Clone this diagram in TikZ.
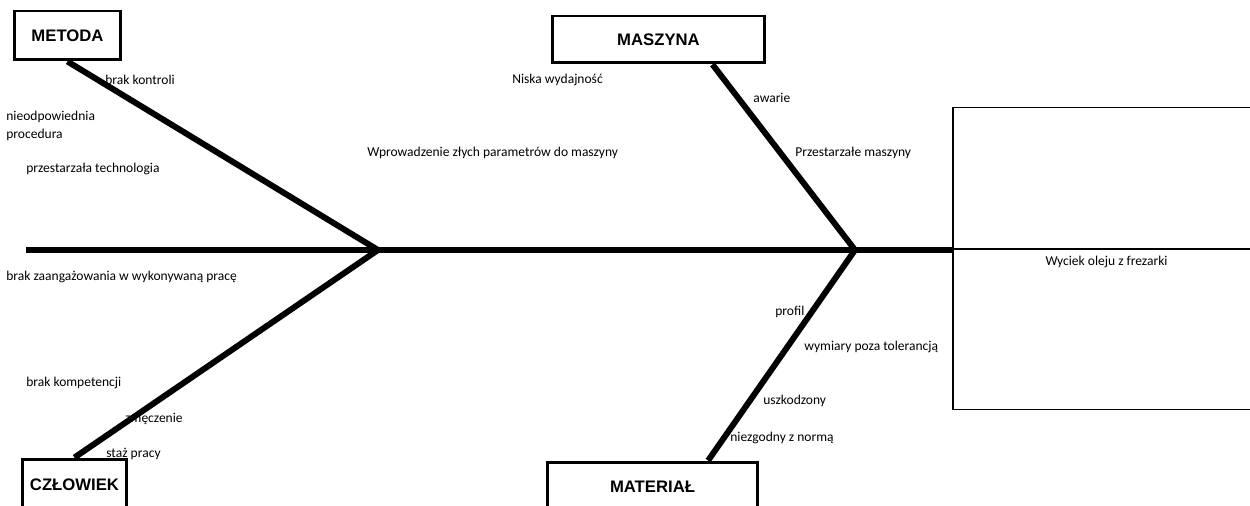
\documentclass[tikz,border=0pt]{standalone}
\usepackage{fontspec}
\setmainfont{Carlito}
\newfontfamily\catfont{Liberation Sans}
\usetikzlibrary{calc}
\begin{document}
\begin{tikzpicture}[x=0.02cm,y=-0.02cm,
  catbox/.style={draw, line width=1.7pt, font=\catfont\bfseries\fontsize{9.5}{11}\selectfont, inner sep=0pt},
  bone/.style={line width=3.4pt},
  lbl/.style={font=\fontsize{7.7}{10.2}\selectfont, inner sep=0pt, anchor=west, align=left},
  thinline/.style={line width=0.6pt}]
\useasboundingbox (0,0) rectangle (1250,506);
\clip (0,0) rectangle (1250,506);
\fill[white] (0,0) rectangle (1250,506);

% labels
\node[lbl] (l1) at (105,80) {brak kontroli};
\node[lbl] (l2) at (6,126) {nieodpowiednia\\procedura};
\node[lbl] (l3) at (26,169) {przestarzała technologia};
\node[lbl] (l4) at (367,153) {Wprowadzenie złych parametrów do maszyny};
\node[lbl] (l5) at (512,80) {Niska wydajność};
\node[lbl] (l6) at (753,98) {awarie};
\node[lbl] (l7) at (795,153) {Przestarzałe maszyny};
\node[lbl] (l8) at (6,277) {brak zaangażowania w wykonywaną pracę};
\node[lbl] (l9) at (26,383) {brak kompetencji};
\node[lbl] (l10) at (125,419) {zmęczenie};
\node[lbl] (l11) at (106,454) {staż pracy};
\node[lbl] (l12) at (775,312) {profil};
\node[lbl] (l13) at (804,347) {wymiary poza tolerancją};
\node[lbl] (l14) at (763,401) {uszkodzony};
\node[lbl] (l15) at (730,438) {niezgodny z normą};

% category boxes
\node[catbox, minimum width=2.14cm, minimum height=0.98cm] (metoda) at (67.5,35.5) {METODA};
\node[catbox, minimum width=4.26cm, minimum height=0.94cm] (maszyna) at (658.5,39.5) {MASZYNA};
\node[catbox, minimum width=2.10cm, minimum height=1.04cm] (czlowiek) at (74.5,485) {CZŁOWIEK};
\node[catbox, minimum width=4.22cm, minimum height=1.00cm] (material) at (652.5,487) {MATERIAŁ};

% effect box
\node[draw, thinline, minimum width=6.14cm, minimum height=6.04cm, anchor=north west, inner sep=0pt] (effect) at (953,107) {};
\draw[line width=1.2pt] (effect.north west) -- (effect.south west);
\coordinate (em) at (953,249);
\draw[thinline] (em) -- (em -| effect.east);
\node[lbl, anchor=center] (efftext) at (1106.5,262) {Wyciek oleju z frezarki};

% spine and bones
\coordinate (tail) at (26,250);
\coordinate (j1) at (378,250);
\coordinate (j2) at (855,250);
\draw[bone] (tail) -- (em |- tail);
\draw[bone] (metoda.south) -- (j1);
\draw[bone] (j1) -- (czlowiek.north);
\draw[bone] ($(maszyna.south west)!0.75!(maszyna.south east)$) -- (j2);
\draw[bone] (j2) -- ($(material.north west)!0.76!(material.north east)$);
\end{tikzpicture}
\end{document}
